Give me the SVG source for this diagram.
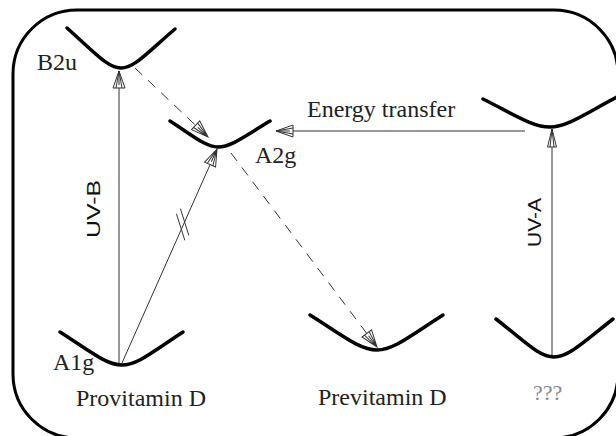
<svg xmlns="http://www.w3.org/2000/svg" width="616" height="436" viewBox="0 0 616 436">
<defs>
<style>
.frame{fill:none;stroke:#000;stroke-width:3}
.well{fill:none;stroke:#000;stroke-width:3.5;stroke-linecap:round}
.lbl{font-family:"Liberation Serif","Times New Roman",serif;font-size:24px;fill:#222}
.uv{font-family:"Liberation Sans",Arial,sans-serif;fill:#111}
.conn{fill:none;stroke:#333;stroke-width:1}
.dash{stroke-dasharray:10 8}
.head{fill:#fff;stroke:#333;stroke-width:1}
</style>
<marker id="arrBig" markerUnits="userSpaceOnUse" viewBox="0 -7 19 14" refX="18" refY="0" markerWidth="19" markerHeight="14" orient="auto">
<path class="head" d="M1,-6 L18,0 L1,6 Z M1,-3 L18,0 M1,3 L18,0 M4,0 L18,0"/>
</marker>
<marker id="arrSmall" markerUnits="userSpaceOnUse" viewBox="0 -6 20 12" refX="19" refY="0" markerWidth="20" markerHeight="12" orient="auto">
<path class="head" d="M1,-4.5 L19,0 L1,4.5 Z M1,-2 L19,0 M1,2 L19,0"/>
</marker>
</defs>
<rect class="frame" x="13" y="10" width="605" height="428" rx="64" ry="64"/>

<g id="connectors">
<line class="conn" x1="119" y1="363" x2="119" y2="71" marker-end="url(#arrBig)"/>
<line class="conn" x1="122" y1="363" x2="217" y2="149" marker-end="url(#arrBig)"/>
<path class="conn" d="M180.4,208.7 L188.8,235.3 M176.4,213.7 L184.8,240.3"/>
<line class="conn dash" x1="135" y1="68" x2="208" y2="137" marker-end="url(#arrBig)"/>
<line class="conn dash" x1="231" y1="153" x2="377" y2="347" marker-end="url(#arrBig)"/>
<line class="conn" x1="525" y1="131" x2="276" y2="131" marker-end="url(#arrBig)"/>
<line class="conn" x1="552" y1="357" x2="552" y2="129" marker-end="url(#arrSmall)"/>
<text class="uv" font-size="18" textLength="58" lengthAdjust="spacingAndGlyphs" text-anchor="middle" transform="translate(100,209) rotate(-90)">UV-B</text>
<text class="uv" font-size="19" textLength="49" lengthAdjust="spacingAndGlyphs" text-anchor="middle" transform="translate(541,222.5) rotate(-90)">UV-A</text>
<text class="lbl" x="307" y="117">Energy transfer</text>
</g>

<g id="B2u">
<path class="well" d="M67,28 C94,52 107.5,68 121,68 C134.5,68 148,52 175,29"/>
<text class="lbl" x="37" y="70">B2u</text>
</g>

<g id="A2g">
<path class="well" d="M170,121 C194,136.6 206,147 218,147 C231,147 244,136.6 270,121"/>
<text class="lbl" x="255" y="163">A2g</text>
</g>

<g id="uva-excited">
<path class="well" d="M483,99 C516.5,115.8 533,127 550,127 C566.5,127 583,115 617,97"/>
</g>

<g id="A1g">
<path class="well" d="M60,332 C91,351.8 106.5,365 122,365 C137.5,365 152.5,351.8 183,332"/>
<text class="lbl" x="53" y="370">A1g</text>
<text class="lbl" x="76" y="406">Provitamin D</text>
</g>

<g id="previtamin">
<path class="well" d="M310,315 C343.5,336 360,350 377,350 C393.5,350 410,336 443,315"/>
<text class="lbl" x="318" y="405">Previtamin D</text>
</g>

<g id="unknown">
<path class="well" d="M496,319 C525.5,341.8 539,357 554,357 C568.5,357 584,341.8 613,319"/>
<text class="lbl" x="533" y="400" style="fill:#888;font-size:22px">???</text>
</g>
</svg>
